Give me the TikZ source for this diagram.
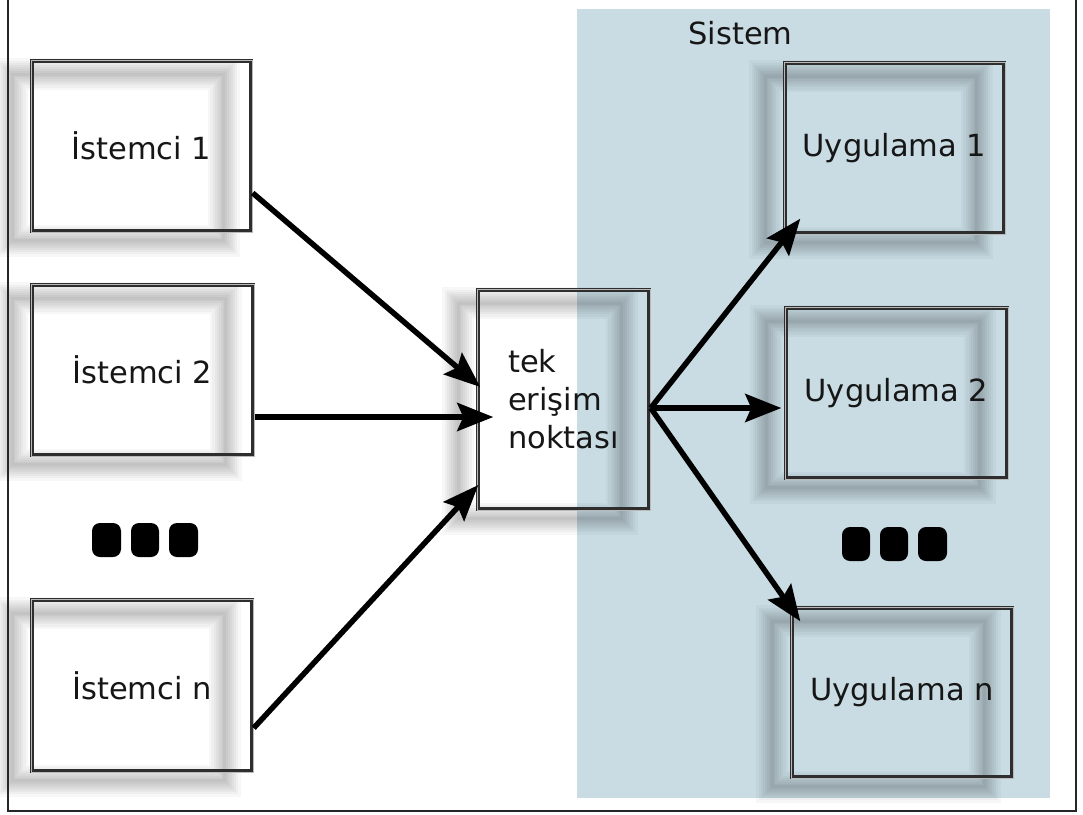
\documentclass[tikz,border=0pt]{standalone}
\usepackage{fontspec}
\setmainfont{DejaVu Sans}
\usetikzlibrary{arrows.meta,calc}
\definecolor{sysblue}{RGB}{201,220,228}
\definecolor{txtcol}{RGB}{22,22,22}
\pgfdeclarelayer{bglayer}
\pgfdeclarelayer{shadowlayer}
\pgfsetlayers{bglayer,shadowlayer,main}
\newcommand\boxshadow[1]{%
  \foreach \w in {32,27,22,18,14,10,6,3}{%
    \draw[line width=\w pt, black, opacity=0.032]
      ($(#1.north west)+(-18,15)$) rectangle ($(#1.south east)+(-29,8)$);
  }%
}
\begin{document}
\begin{tikzpicture}[x=1pt,y=-1pt,
  box/.style={draw=black!82, line width=3.4pt,
    inner sep=0pt, font=\fontsize{30.5}{38}\selectfont, text=txtcol},
  boxhi/.style={draw=gray!55, line width=0.8pt},
  conn/.style={line width=5.5pt, -{Stealth[length=36pt,width=28pt,inset=6pt]}},
  dotsq/.style={fill=black, rounded corners=8pt},
  lbl/.style={font=\fontsize{30.5}{38}\selectfont, text=txtcol, inner sep=0pt}
  ]
\useasboundingbox (0,0) rectangle (1083,814);

\begin{pgfonlayer}{bglayer}
  \fill[white] (0,0) rectangle (1083,814);
  \fill[sysblue] (577,9) rectangle (1050,798);
\end{pgfonlayer}

\draw[line width=1.3pt, black!85] (8,-2) -- (8,811) -- (1076,811) -- (1076,-2);

\node[lbl] (sys) at (740.5,33) {Sistem};

\node[box, minimum width=219pt, minimum height=170pt] (i1) at (141.5,146) {İstemci 1};
\node[box, minimum width=221pt, minimum height=170pt] (i2) at (142.5,370) {\raisebox{-4pt}{İstemci 2}};
\node[box, minimum width=220pt, minimum height=171pt] (in) at (142,685.5) {\raisebox{-12pt}{İstemci n}};

\node[box, minimum width=171pt, minimum height=219pt, align=left] (c) at (563.5,399.5) {tek\\erişim\\noktası};

\node[box, minimum width=219pt, minimum height=170pt] (u1) at (894.5,148) {Uygulama 1};
\node[box, minimum width=221pt, minimum height=170pt] (u2) at (896.5,393) {Uygulama 2};
\node[box, minimum width=220pt, minimum height=169pt] (un) at (902,692.5) {\raisebox{-9pt}{Uygulama n}};

\foreach \n in {i1,i2,in,c,u1,u2,un}{
  \draw[boxhi] ($(\n.north west)+(0.6,0.6)$) rectangle ($(\n.south east)+(-0.6,-0.6)$);
}

\begin{pgfonlayer}{shadowlayer}
  \boxshadow{i1}
  \boxshadow{i2}
  \boxshadow{in}
  \boxshadow{c}
  \boxshadow{u1}
  \boxshadow{u2}
  \boxshadow{un}
\end{pgfonlayer}

\draw[conn] ([yshift=-47pt]i1.east) -- ([xshift=4pt,yshift=12.5pt]c.west);
\draw[conn] ([yshift=-47pt]i2.east) -- ([xshift=17pt,yshift=-17.5pt]c.west);
\draw[conn] ([yshift=-42.5pt]in.east) -- ([xshift=2pt,yshift=-85.5pt]c.west);

\draw[conn] ([yshift=-8.5pt]c.east) -- ([xshift=17pt,yshift=16pt]u1.south west);
\draw[conn] ([yshift=-8.5pt]c.east) -- ([xshift=-3pt,yshift=-15pt]u2.west);
\draw[conn] ([yshift=-8.5pt]c.east) -- ([xshift=10pt,yshift=-15pt]un.north west);

\fill[dotsq] (92,523) rectangle (121,557);
\fill[dotsq] (131,523) rectangle (159,557);
\fill[dotsq] (169,523) rectangle (198,557);

\fill[dotsq] (842,527) rectangle (870,561);
\fill[dotsq] (880,527) rectangle (908,561);
\fill[dotsq] (918,527) rectangle (947,561);
\end{tikzpicture}
\end{document}
